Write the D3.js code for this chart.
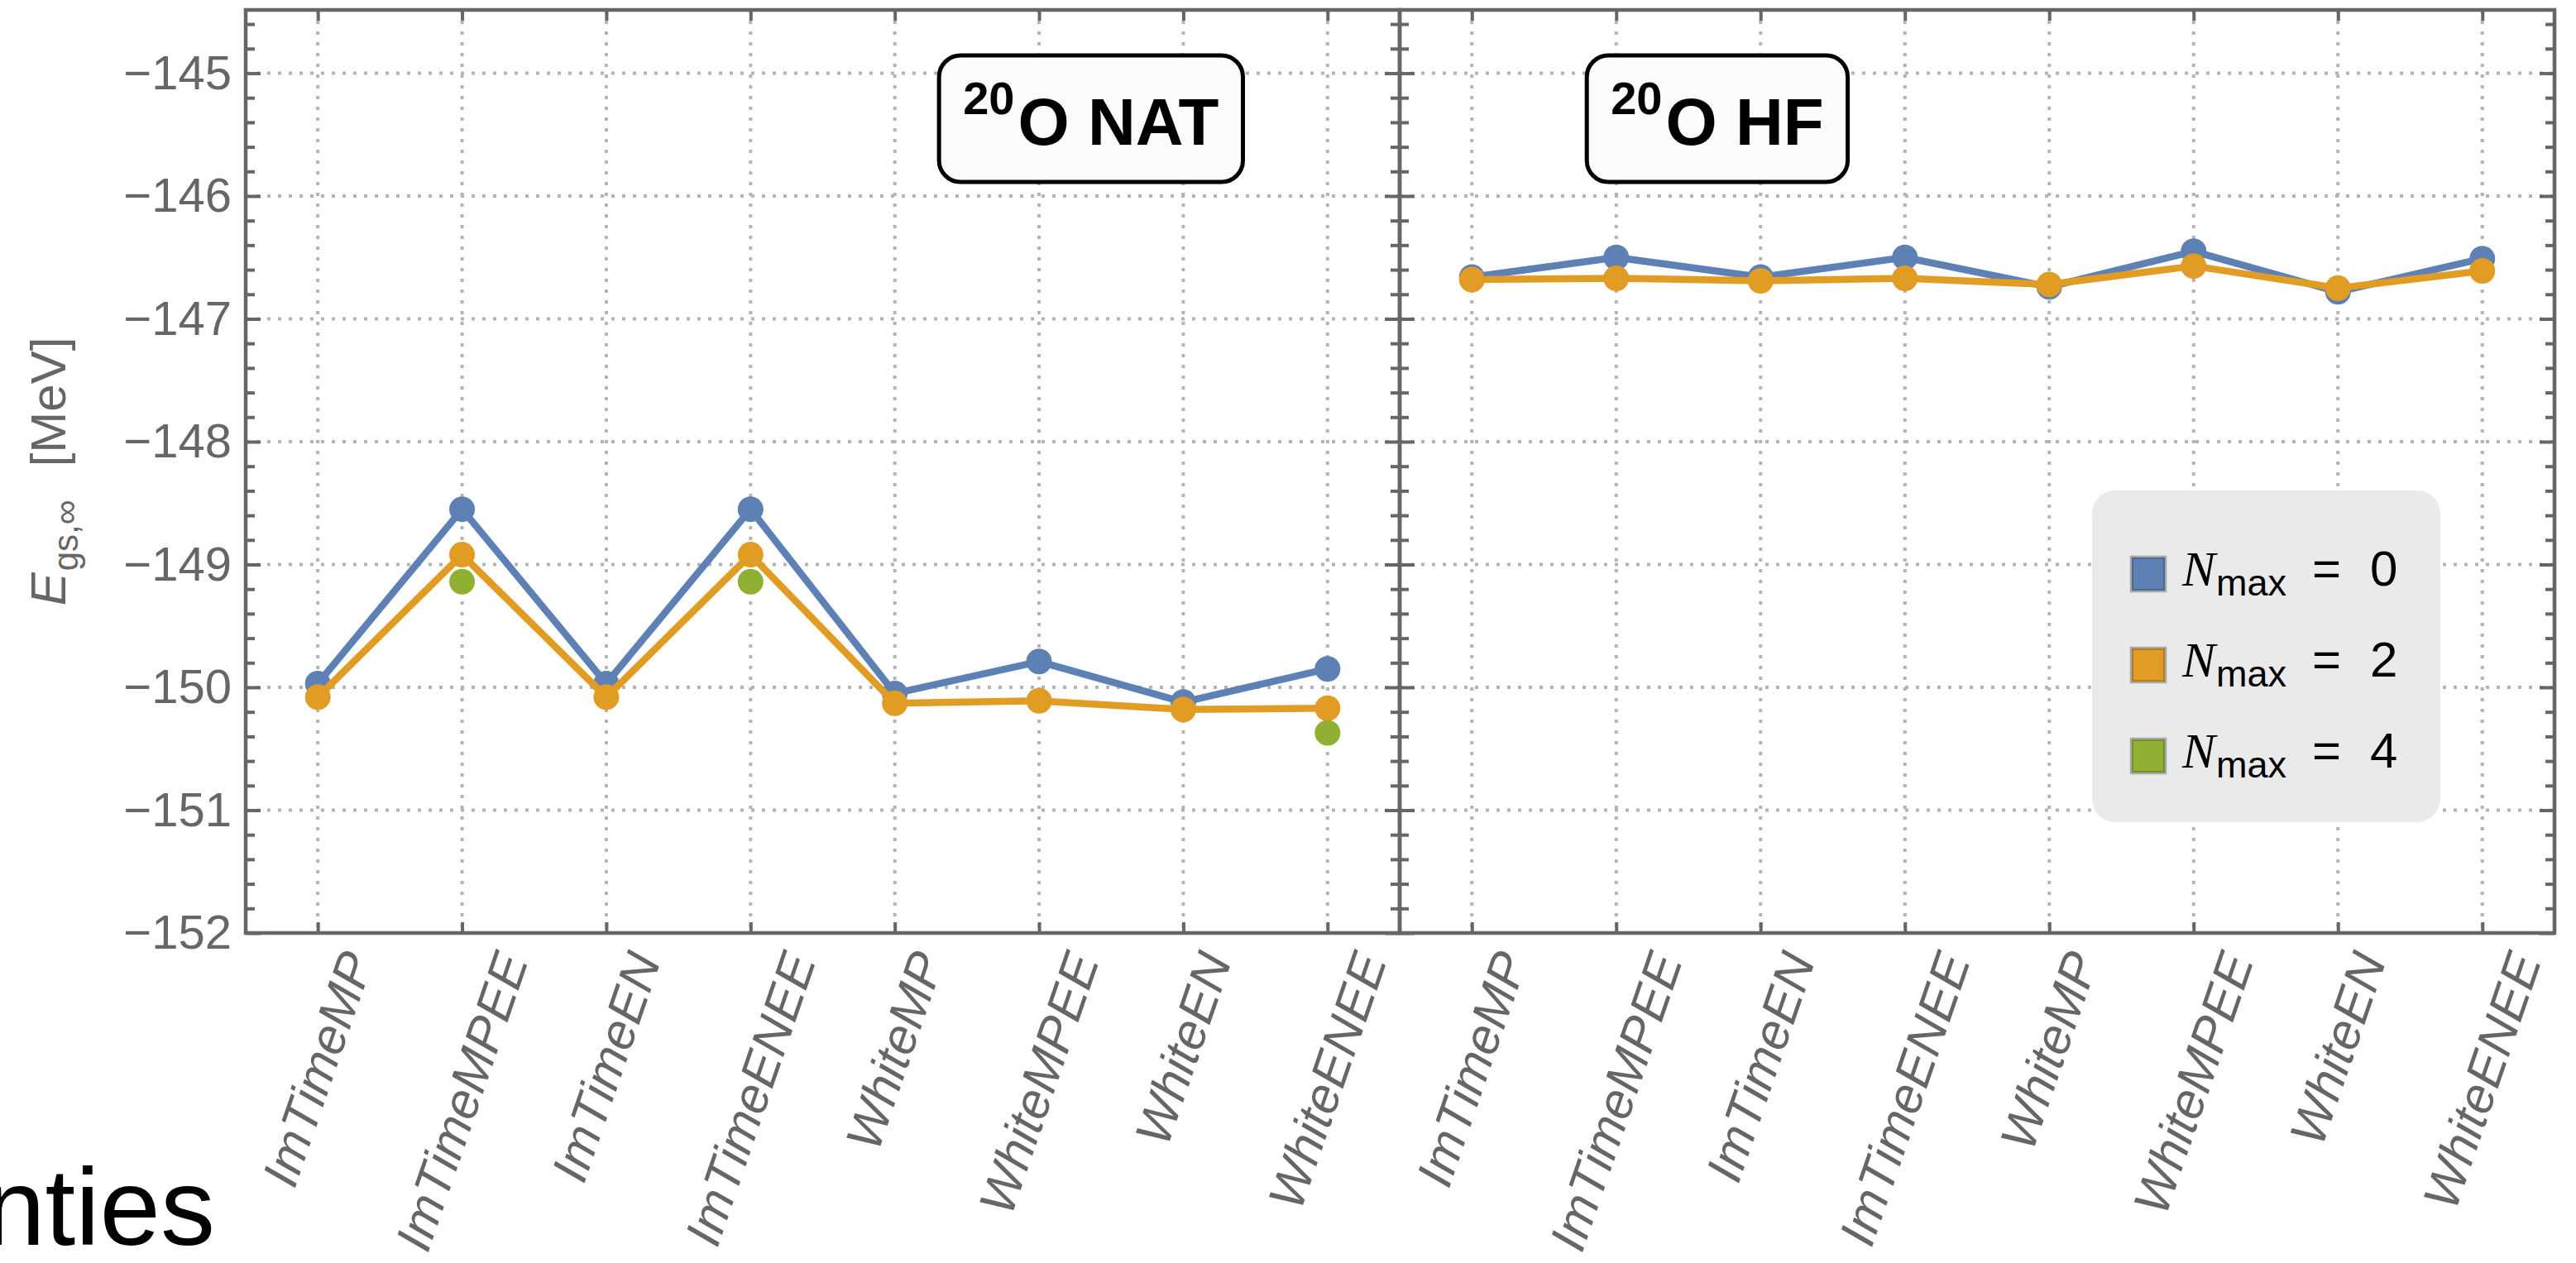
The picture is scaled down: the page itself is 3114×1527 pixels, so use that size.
<!DOCTYPE html>
<html>
<head>
<meta charset="utf-8">
<script src="https://cdn.jsdelivr.net/npm/d3@7"></script>
<style>
  html, body { margin: 0; padding: 0; background: #ffffff; }
  svg { display: block; }
</style>
</head>
<body>
<svg id="chart" width="3114" height="1527"></svg>
<script>
// ---- data -------------------------------------------------------------
const categories = ["ImTimeMP", "ImTimeMPEE", "ImTimeEN", "ImTimeENEE",
                    "WhiteMP", "WhiteMPEE", "WhiteEN", "WhiteENEE"];

// 20O, natural-orbital basis: ground-state energy extrapolations [MeV]
const natNmax0 = [-149.97, -148.55, -149.97, -148.55, -150.05, -149.79, -150.12, -149.85];
const natNmax2 = [-150.08, -148.92, -150.08, -148.92, -150.13, -150.11, -150.18, -150.17];
const natNmax4 = [null, -149.14, null, -149.14, null, null, null, -150.37];

// 20O, Hartree-Fock basis
const hfNmax0 = [-146.66, -146.50, -146.66, -146.50, -146.74, -146.45, -146.78, -146.51];
const hfNmax2 = [-146.68, -146.67, -146.69, -146.67, -146.72, -146.57, -146.75, -146.61];
const hfNmax4 = [null, null, null, null, null, null, null, null];

const nmaxValues = ["0", "2", "4"];
const yTicks = [-152, -151, -150, -149, -148, -147, -146, -145];
const yTickLabels = ["\u2212152", "\u2212151", "\u2212150", "\u2212149",
                     "\u2212148", "\u2212147", "\u2212146", "\u2212145"];
const panelNuclei = ["20", "20"];
const panelBases = ["O NAT", "O HF"];

// ---- style ------------------------------------------------------------
const seriesColors = ["#5E81B5", "#E19C24", "#8FB032"];
const swatchStroke = ["#3f5f8f", "#a8701a", "#6a8520"];
const axisGray = "#666666";
const gridGray = "#b4b4b4";
const sans = "'Liberation Sans', Arimo, Arial, Helvetica, sans-serif";
const serif = "'Liberation Serif', 'Times New Roman', serif";

// ---- layout -----------------------------------------------------------
const W = 3114, H = 1527;
const frameTop = 12, frameBottom = 1128;
const panelEdges = [297, 1692, 3088];

const svg = d3.select("#chart");
svg.append("rect").attr("width", W).attr("height", H).attr("fill", "#ffffff");

const y = d3.scaleLinear().domain([-152, -144.485]).range([frameBottom, frameTop]);

const panels = [
  { x0: panelEdges[0], x1: panelEdges[1], series: [natNmax0, natNmax2, natNmax4],
    nucleus: panelNuclei[0], basis: panelBases[0], labelFrac: 0.7325 },
  { x0: panelEdges[1], x1: panelEdges[2], series: [hfNmax0, hfNmax2, hfNmax4],
    nucleus: panelNuclei[1], basis: panelBases[1], labelFrac: 0.275 }
];

const minorTicks = d3.range(-152, -144.45, 0.2)
  .map(v => Math.round(v * 10) / 10)
  .filter(v => Math.abs(v - Math.round(v)) > 1e-6);

function styleAxis(sel) {
  sel.select(".domain").remove();
  sel.selectAll(".tick line").attr("stroke", axisGray).attr("stroke-width", 4);
  sel.selectAll(".tick text").remove();
}

panels.forEach((p) => {
  const x = d3.scalePoint().domain(categories).range([p.x0, p.x1]).padding(0.5);
  const g = svg.append("g");

  // grid
  const grid = g.append("g").attr("stroke", gridGray).attr("stroke-width", 4)
    .attr("stroke-dasharray", "4,9");
  grid.selectAll("line.h").data(yTicks.filter(v => v > -152)).join("line")
    .attr("x1", p.x0).attr("x2", p.x1)
    .attr("y1", d => y(d)).attr("y2", d => y(d));
  grid.selectAll("line.v").data(categories).join("line")
    .attr("x1", d => x(d)).attr("x2", d => x(d))
    .attr("y1", frameTop).attr("y2", frameBottom);

  // ticks on all four sides (pointing inward)
  const leftMajor = d3.axisRight(y).tickValues(yTicks).tickSize(18).tickFormat("");
  const leftMinor = d3.axisRight(y).tickValues(minorTicks).tickSize(11).tickFormat("");
  const rightMajor = d3.axisLeft(y).tickValues(yTicks).tickSize(18).tickFormat("");
  const rightMinor = d3.axisLeft(y).tickValues(minorTicks).tickSize(11).tickFormat("");
  g.append("g").attr("transform", `translate(${p.x0},0)`).call(leftMajor).call(styleAxis);
  g.append("g").attr("transform", `translate(${p.x0},0)`).call(leftMinor).call(styleAxis);
  g.append("g").attr("transform", `translate(${p.x1},0)`).call(rightMajor).call(styleAxis);
  g.append("g").attr("transform", `translate(${p.x1},0)`).call(rightMinor).call(styleAxis);
  g.append("g").attr("transform", `translate(0,${frameBottom})`)
    .call(d3.axisTop(x).tickSize(13).tickFormat("")).call(styleAxis);
  g.append("g").attr("transform", `translate(0,${frameTop})`)
    .call(d3.axisBottom(x).tickSize(13).tickFormat("")).call(styleAxis);

  // frame
  g.append("rect").attr("x", p.x0).attr("y", frameTop)
    .attr("width", p.x1 - p.x0).attr("height", frameBottom - frameTop)
    .attr("fill", "none").attr("stroke", axisGray).attr("stroke-width", 4.5);

  // series: lines then points
  const line = d3.line()
    .defined(d => d != null)
    .x((d, i) => x(categories[i]))
    .y(d => y(d));
  p.series.forEach((vals, si) => {
    const sg = g.append("g");
    sg.append("path").datum(vals).attr("d", line)
      .attr("fill", "none").attr("stroke", seriesColors[si])
      .attr("stroke-width", 8.5).attr("stroke-linejoin", "round");
    sg.selectAll("circle")
      .data(vals.map((v, i) => ({ v, c: categories[i] })).filter(d => d.v != null))
      .join("circle")
      .attr("cx", d => x(d.c)).attr("cy", d => y(d.v)).attr("r", 15.5)
      .attr("fill", seriesColors[si]);
  });

  // rotated category labels, each centred under its tick
  categories.forEach(c => {
    const outer = g.append("g");
    outer.append("text")
      .attr("transform", "rotate(-71)")
      .attr("text-anchor", "end")
      .attr("font-family", sans).attr("font-style", "italic")
      .attr("font-size", 61).attr("fill", axisGray)
      .text(c);
    const bb = outer.node().getBBox();
    outer.attr("transform",
      `translate(${x(c) - (bb.x + bb.width / 2)},${1142 - bb.y})`);
  });

  // panel title box
  const tg = g.append("g");
  const txt = tg.append("text")
    .attr("font-family", sans).attr("font-weight", "bold").attr("fill", "#000");
  txt.append("tspan").attr("font-size", 56).attr("dy", -37).text(p.nucleus);
  txt.append("tspan").attr("font-size", 80).attr("dx", 4).attr("dy", 37).text(p.basis);
  const tb = txt.node().getBBox();
  const cx = p.x0 + p.labelFrac * (p.x1 - p.x0);
  const boxW = tb.width + 58, boxTop = 67, boxH = 153;
  txt.attr("x", cx - tb.width / 2).attr("y", 175);
  tg.insert("rect", "text")
    .attr("x", cx - boxW / 2).attr("y", boxTop)
    .attr("width", boxW).attr("height", boxH)
    .attr("rx", 26).attr("ry", 26)
    .attr("fill", "#fbfbfb").attr("stroke", "#000").attr("stroke-width", 5);
});

// y-axis tick labels
svg.append("g").attr("transform", `translate(${panelEdges[0]},0)`)
  .call(d3.axisLeft(y).tickValues(yTicks)
    .tickFormat((d, i) => yTickLabels[i]).tickSize(0).tickPadding(17))
  .call(sel => {
    sel.select(".domain").remove();
    sel.selectAll(".tick line").remove();
    sel.selectAll(".tick text").attr("font-family", sans)
      .attr("font-size", 58).attr("fill", axisGray);
  });

// y-axis title
const yt = svg.append("text")
  .attr("transform", "translate(79,570) rotate(-90)")
  .attr("text-anchor", "middle")
  .attr("font-family", sans).attr("fill", axisGray).attr("font-size", 60);
yt.append("tspan").attr("font-style", "italic").text("E");
yt.append("tspan").attr("font-size", 42).attr("dy", 15).attr("dx", 2).text("gs,\u221E");
yt.append("tspan").attr("dy", -15).attr("dx", 40).text("[MeV]");

// legend
const lg = svg.append("g").attr("transform", "translate(2529,593)");
lg.append("rect").attr("width", 421).attr("height", 401).attr("rx", 28).attr("ry", 28)
  .attr("fill", "#eaeaea");
nmaxValues.forEach((n, i) => {
  const cy = 101 + i * 110;
  lg.append("rect").attr("x", 47).attr("y", cy - 21).attr("width", 42).attr("height", 42)
    .attr("fill", seriesColors[i]).attr("stroke", "#a8a8a8").attr("stroke-width", 2.5);
  lg.append("rect").attr("x", 49).attr("y", cy - 19).attr("width", 38).attr("height", 38)
    .attr("fill", "none").attr("stroke", swatchStroke[i]).attr("stroke-width", 1.5);
  const t = lg.append("text").attr("y", cy + 14).attr("fill", "#000");
  t.append("tspan").attr("x", 109).attr("font-family", serif).attr("font-style", "italic")
    .attr("font-size", 60).text("N");
  t.append("tspan").attr("font-family", sans).attr("font-size", 45).attr("dy", 12)
    .attr("dx", 1).text("max");
  t.append("tspan").attr("x", 266).attr("dy", -12).attr("font-family", sans)
    .attr("font-size", 60).text("=");
  t.append("tspan").attr("x", 336).attr("font-family", sans)
    .attr("font-size", 60).text(n);
});

// fragment of surrounding slide text
svg.append("text").attr("x", 260).attr("y", 1505).attr("text-anchor", "end")
  .attr("font-family", sans).attr("font-size", 132).attr("fill", "#000")
  .text("nties");
</script>
</body>
</html>
